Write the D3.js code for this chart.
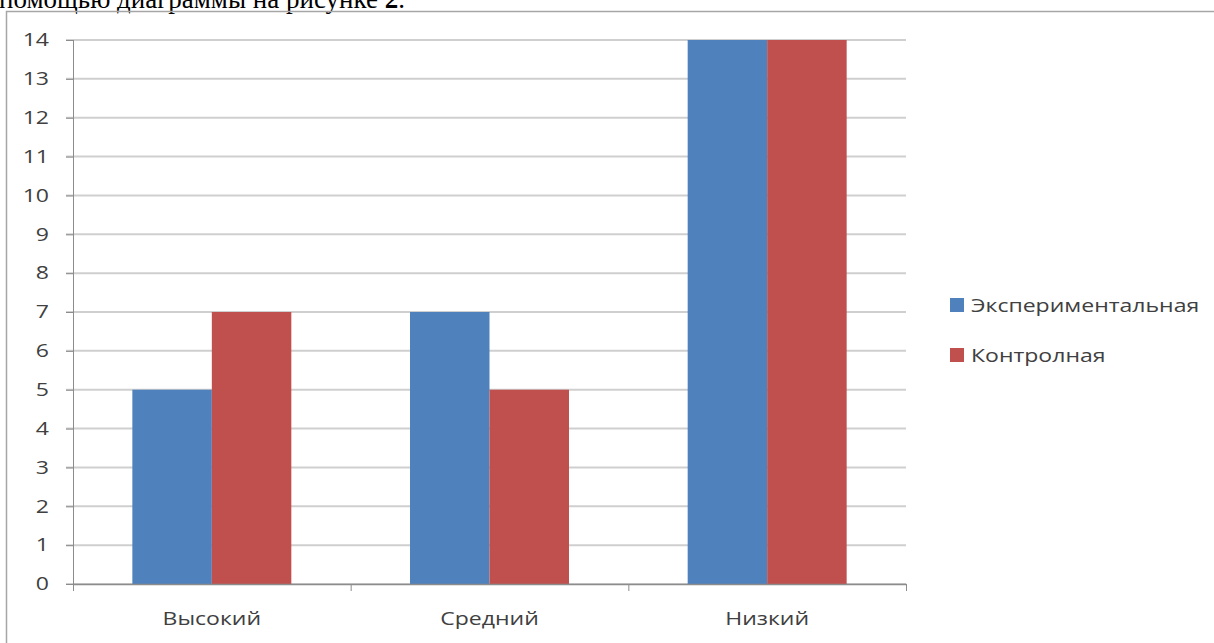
<!DOCTYPE html>
<html>
<head>
<meta charset="utf-8">
<script src="https://cdnjs.cloudflare.com/ajax/libs/d3/7.8.5/d3.min.js"></script>
<style>
  body { margin: 0; background: #fff; overflow: hidden; }
  svg { display: block; }
</style>
</head>
<body>
<div id="chart"></div>
<script>
// data
var categories = ["Высокий", "Средний", "Низкий"];
var seriesNames = ["Экспериментальная", "Контролная"];
var experimental = [5, 7, 14];
var control = [7, 5, 14];
var yTicks = [0, 1, 2, 3, 4, 5, 6, 7, 8, 9, 10, 11, 12, 13, 14];
var colors = ["#4f81bd", "#c0504d"];

var W = 1214, H = 643;
var margin = {left: 73, right: 308, top: 40, bottom: 59};
var font = "'Open Sans', 'Noto Sans', sans-serif";
var stretchX = 1.28; // the source picture is a bit wider than tall

var svg = d3.select("#chart").append("svg")
    .attr("width", W)
    .attr("height", H);

// widen text horizontally around its own anchor point
function stretch(sel) {
  sel.each(function() {
    var t = d3.select(this);
    var tx = +t.attr("x") || 0, ty = +t.attr("y") || 0;
    t.attr("transform", "translate(" + tx + "," + ty + ") scale(" + stretchX + ",1) translate(" + (-tx) + "," + (-ty) + ")");
  });
}

// cut-off line of document text above the chart
svg.append("text")
    .attr("x", -1)
    .attr("y", 8)
    .attr("font-family", "'Liberation Serif', serif")
    .attr("font-size", "27px")
    .attr("fill", "#000")
    .html("помощью диаграммы на рисунке <tspan font-weight='bold'>2</tspan>.");

// chart frame
svg.append("path")
    .attr("d", "M6.5," + H + "V11.5H" + W)
    .attr("fill", "none")
    .attr("stroke", "#a6a6a6")
    .attr("stroke-width", 1.5);

var x0 = d3.scaleBand()
    .domain(categories)
    .range([margin.left, W - margin.right])
    .padding(0);

var y = d3.scaleLinear()
    .domain([0, 14])
    .range([H - margin.bottom, margin.top]);

// inner band for the two series, gap width 150%
var groupW = x0.bandwidth() * 159 / 277.7;
var x1 = d3.scaleBand()
    .domain([0, 1])
    .range([0, groupW]);

// gridlines
svg.append("g")
    .selectAll("line")
    .data(yTicks)
    .enter().append("line")
    .attr("x1", margin.left - 7)
    .attr("x2", W - margin.right)
    .attr("y1", function(d) { return y(d); })
    .attr("y2", function(d) { return y(d); })
    .attr("stroke", "#cfcfcf")
    .attr("stroke-width", 2);

// bars
var rows = categories.map(function(c, i) {
  return {cat: c, values: [experimental[i], control[i]]};
});

var groups = svg.append("g")
    .selectAll("g")
    .data(rows)
    .enter().append("g")
    .attr("transform", function(d) {
      return "translate(" + (x0(d.cat) + (x0.bandwidth() - groupW) / 2) + ",0)";
    });

groups.selectAll("rect")
    .data(function(d) { return d.values; })
    .enter().append("rect")
    .attr("x", function(d, i) { return x1(i); })
    .attr("width", x1.bandwidth())
    .attr("y", function(d) { return y(d); })
    .attr("height", function(d) { return y(0) - y(d); })
    .attr("fill", function(d, i) { return colors[i]; });

// y axis
var yAxis = svg.append("g")
    .attr("transform", "translate(" + margin.left + ",0)")
    .call(d3.axisLeft(y).tickValues(yTicks).tickSize(7).tickPadding(17).tickFormat(d3.format("d")));
yAxis.select(".domain").attr("stroke", "#8c8c8c").attr("d", "M0.5," + y(0) + "V" + y(14));
yAxis.selectAll(".tick line").attr("stroke", "#8c8c8c");
yAxis.selectAll("text")
    .attr("font-family", font)
    .attr("font-size", "18px")
    .attr("fill", "#404040")
    .call(stretch);

// x axis
var xAxis = svg.append("g")
    .attr("transform", "translate(0," + y(0) + ")")
    .call(d3.axisBottom(x0).tickSize(0).tickPadding(28));
xAxis.select(".domain").attr("stroke", "#8c8c8c").attr("stroke-width", 1.5);
xAxis.selectAll("text")
    .attr("font-family", font)
    .attr("font-size", "18px")
    .attr("fill", "#404040")
    .call(stretch);
// category boundary ticks
svg.append("g")
    .selectAll("line")
    .data(categories.concat(["end"]))
    .enter().append("line")
    .attr("x1", function(d, i) { return margin.left + 0.5 + i * x0.bandwidth(); })
    .attr("x2", function(d, i) { return margin.left + 0.5 + i * x0.bandwidth(); })
    .attr("y1", y(0))
    .attr("y2", y(0) + 7)
    .attr("stroke", "#8c8c8c");

// legend
var legend = svg.append("g")
    .selectAll("g")
    .data(seriesNames)
    .enter().append("g")
    .attr("transform", function(d, i) { return "translate(950," + (298 + i * 50) + ")"; });
legend.append("rect")
    .attr("width", 14)
    .attr("height", 14)
    .attr("fill", function(d, i) { return colors[i]; });
legend.append("text")
    .attr("x", 21)
    .attr("y", 14)
    .attr("font-family", font)
    .attr("font-size", "18px")
    .attr("fill", "#404040")
    .text(function(d) { return d; })
    .call(stretch);
</script>
</body>
</html>
